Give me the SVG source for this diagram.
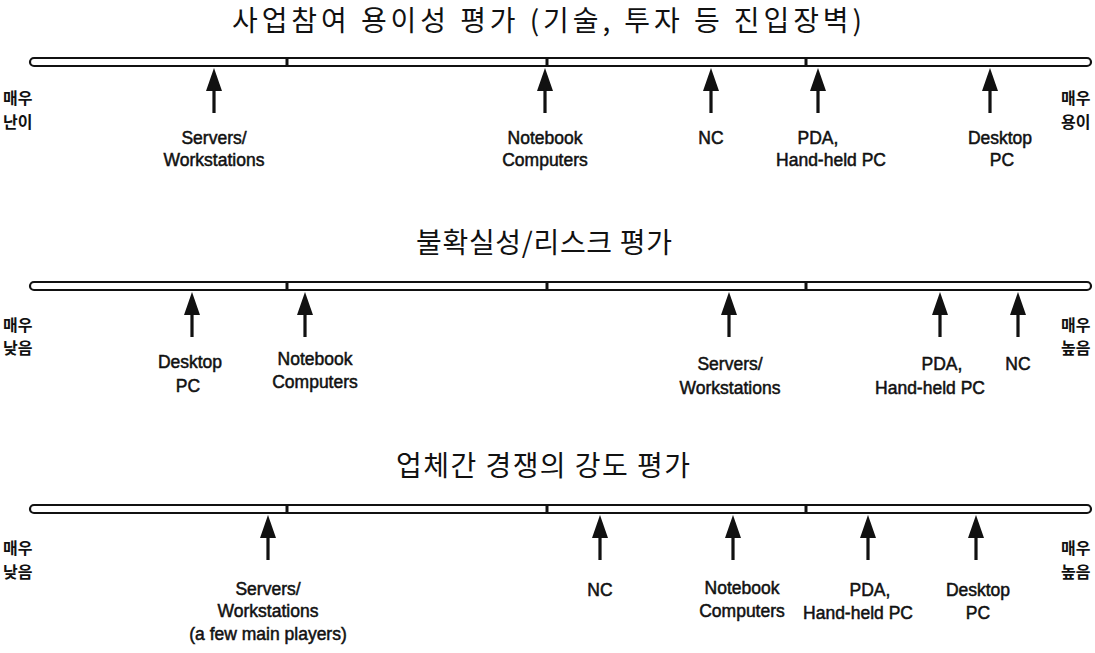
<svg xmlns="http://www.w3.org/2000/svg" width="1095" height="653" viewBox="0 0 1095 653">
  <style>
    .title { font-family: "Noto Sans CJK KR", sans-serif; font-size: 28px; fill: #111; text-anchor: middle; }
    .side { font-family: "Noto Sans CJK KR", sans-serif; font-size: 16px; font-weight: bold; fill: #111; }
    .lbl { font-family: "Liberation Sans", Arial, sans-serif; font-size: 17.5px; fill: #111; stroke: #111; stroke-width: 0.5; text-anchor: middle; }
    .bar { fill: #fff; stroke: #111; stroke-width: 2.2; }
    .div { stroke: #111; stroke-width: 3; }
  </style>
  <defs>
    <!-- upward arrow, tip at origin -->
    <g id="arr">
      <polygon points="0,0 -8,23 8,23" fill="#111"/>
      <rect x="-1.6" y="20" width="3.2" height="25" fill="#111"/>
    </g>
  </defs>
  <rect width="1095" height="653" fill="#fff"/>

  <!-- scale 1: ease of entry -->
  <g id="scale1">
    <text class="title" x="547" y="31" textLength="630" lengthAdjust="spacing">사업참여 용이성 평가 (기술, 투자 등 진입장벽)</text>
    <rect class="bar" x="30" y="58" width="1061" height="8" rx="4"/>
    <line class="div" x1="287" y1="57" x2="287" y2="67"/>
    <line class="div" x1="547" y1="57" x2="547" y2="67"/>
    <line class="div" x1="806" y1="57" x2="806" y2="67"/>
    <text class="side" x="3" y="104">매우</text>
    <text class="side" x="3" y="128">난이</text>
    <text class="side" x="1061" y="104">매우</text>
    <text class="side" x="1061" y="128">용이</text>
  </g>
  <g id="s1-servers"><text class="lbl" x="214" y="144">Servers/</text><text class="lbl" x="214" y="166">Workstations</text></g>
  <g id="s1-notebook"><text class="lbl" x="545" y="144">Notebook</text><text class="lbl" x="545" y="166">Computers</text></g>
  <g id="s1-nc"><text class="lbl" x="711" y="144">NC</text></g>
  <g id="s1-pda"><text class="lbl" x="818" y="144">PDA,</text><text class="lbl" x="831" y="166">Hand-held PC</text></g>
  <g id="s1-desktop"><text class="lbl" x="1000" y="144">Desktop</text><text class="lbl" x="1002" y="166">PC</text></g>

  <!-- scale 2: uncertainty / risk -->
  <g id="scale2">
    <text class="title" x="544" y="253" textLength="256" lengthAdjust="spacing">불확실성/리스크 평가</text>
    <rect class="bar" x="30" y="282" width="1061" height="8" rx="4"/>
    <line class="div" x1="287" y1="281" x2="287" y2="291"/>
    <line class="div" x1="547" y1="281" x2="547" y2="291"/>
    <line class="div" x1="806" y1="281" x2="806" y2="291"/>
    <text class="side" x="3" y="331">매우</text>
    <text class="side" x="3" y="354">낮음</text>
    <text class="side" x="1061" y="331">매우</text>
    <text class="side" x="1061" y="354">높음</text>
  </g>
  <g id="s2-desktop"><text class="lbl" x="190" y="368">Desktop</text><text class="lbl" x="188" y="392">PC</text></g>
  <g id="s2-notebook"><text class="lbl" x="315" y="365">Notebook</text><text class="lbl" x="315" y="388">Computers</text></g>
  <g id="s2-servers"><text class="lbl" x="730" y="370">Servers/</text><text class="lbl" x="730" y="394">Workstations</text></g>
  <g id="s2-pda"><text class="lbl" x="942" y="370">PDA,</text><text class="lbl" x="930" y="394">Hand-held PC</text></g>
  <g id="s2-nc"><text class="lbl" x="1018" y="370">NC</text></g>

  <!-- scale 3: intensity of competition -->
  <g id="scale3">
    <text class="title" x="543" y="476" textLength="294" lengthAdjust="spacing">업체간 경쟁의 강도 평가</text>
    <rect class="bar" x="30" y="505" width="1061" height="8" rx="4"/>
    <line class="div" x1="287" y1="504" x2="287" y2="514"/>
    <line class="div" x1="547" y1="504" x2="547" y2="514"/>
    <line class="div" x1="806" y1="504" x2="806" y2="514"/>
    <text class="side" x="3" y="554">매우</text>
    <text class="side" x="3" y="578">낮음</text>
    <text class="side" x="1061" y="554">매우</text>
    <text class="side" x="1061" y="578">높음</text>
  </g>
  <g id="s3-servers"><text class="lbl" x="268" y="595">Servers/</text><text class="lbl" x="268" y="617">Workstations</text><text class="lbl" x="268" y="640">(a few main players)</text></g>
  <g id="s3-nc"><text class="lbl" x="600" y="596">NC</text></g>
  <g id="s3-notebook"><text class="lbl" x="742" y="594">Notebook</text><text class="lbl" x="742" y="617">Computers</text></g>
  <g id="s3-pda"><text class="lbl" x="870" y="596">PDA,</text><text class="lbl" x="858" y="619">Hand-held PC</text></g>
  <g id="s3-desktop"><text class="lbl" x="978" y="596">Desktop</text><text class="lbl" x="978" y="619">PC</text></g>

  <!-- pointer arrows -->
  <g id="connectors">
    <use href="#arr" x="214" y="68"/>
    <use href="#arr" x="545" y="68"/>
    <use href="#arr" x="711" y="68"/>
    <use href="#arr" x="818" y="68"/>
    <use href="#arr" x="990" y="68"/>

    <use href="#arr" x="192" y="292"/>
    <use href="#arr" x="305" y="292"/>
    <use href="#arr" x="729" y="292"/>
    <use href="#arr" x="940" y="292"/>
    <use href="#arr" x="1018" y="292"/>

    <use href="#arr" x="268" y="515"/>
    <use href="#arr" x="600" y="515"/>
    <use href="#arr" x="733" y="515"/>
    <use href="#arr" x="868" y="515"/>
    <use href="#arr" x="976" y="515"/>
  </g>
</svg>
